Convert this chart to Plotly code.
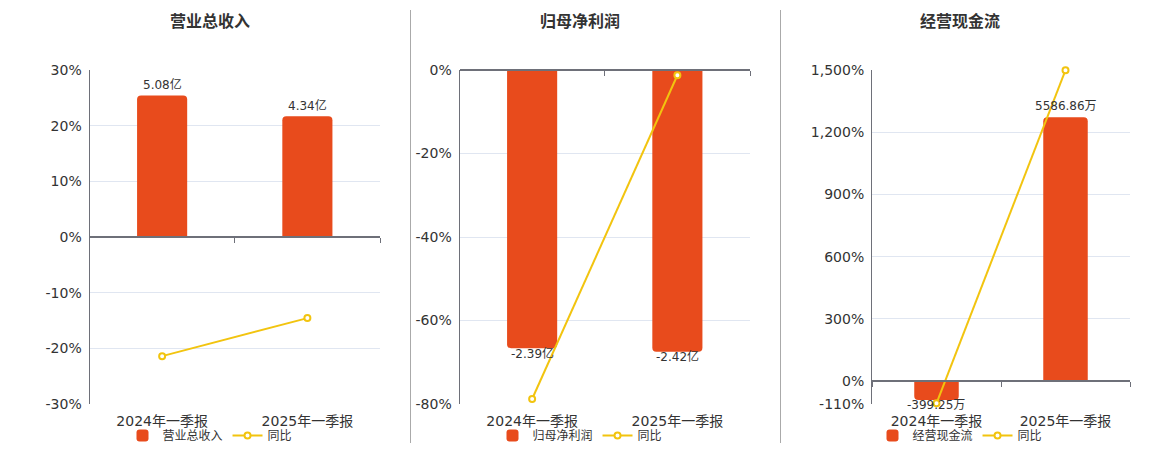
import plotly.graph_objects as go

W, H = 1160, 450

categories = ["2024年一季报", "2025年一季报"]

titles = ["营业总收入", "归母净利润", "经营现金流"]
bar_names = ["营业总收入", "归母净利润", "经营现金流"]
bar_units = ["亿", "亿", "万"]

revenue = [5.08, 4.34]          # 亿
revenue_yoy = [-21.4, -14.57]   # %
netprofit = [-2.39, -2.42]      # 亿
netprofit_yoy = [-78.8, -1.26]  # %
cashflow = [-399.25, 5586.86]   # 万
cashflow_yoy = [-106.5, 1499.3] # %

bars = [revenue, netprofit, cashflow]
yoys = [revenue_yoy, netprofit_yoy, cashflow_yoy]

pct_ranges = [[-30, 30], [-80, 0], [-110, 1500]]
pct_ticks = [[-30, -20, -10, 0, 10, 20, 30],
             [-80, -60, -40, -20, 0],
             [-110, 0, 300, 600, 900, 1200, 1500]]
pct_ticktext = [["-30%", "-20%", "-10%", "0%", "10%", "20%", "30%"],
                ["-80%", "-60%", "-40%", "-20%", "0%"],
                ["-110%", "0%", "300%", "600%", "900%", "1,200%", "1,500%"]]
bar_ranges = [[-6, 6], [-2.87, 0], [-110 / 1500 * 6587, 6587]]

# layout (pixels)
x_doms_px = [(89.5, 380), (459.5, 750), (872, 1130)]
y_top_px, y_bot_px = 70, 404
title_cx = [210, 580, 960]
legend_cx = [210, 580, 960]

BAR_COLOR = "#E84B1C"
LINE_COLOR = "#F2C40F"
AXIS_COLOR = "#6E7079"
GRID_COLOR = "#E0E6F1"
TEXT_COLOR = "#333333"
FONT = "DejaVu Sans, Noto Sans CJK SC, sans-serif"

fig = go.Figure()
layout = {}
annotations = []
ydom = [1 - y_bot_px / H, 1 - y_top_px / H]
legend_names = ["legend", "legend2", "legend3"]

for i in range(3):
    n = i + 1
    xa = "x" if n == 1 else f"x{n}"
    yb = "y" if n == 1 else f"y{n}"      # bars (main, hidden)
    yp = f"y{n + 3}"                       # percent axis (overlay, visible)
    xz = f"x{n + 3}"                       # zero axis line
    xdom = [x_doms_px[i][0] / W, x_doms_px[i][1] / W]
    lg = legend_names[i]

    fig.add_trace(go.Bar(
        x=categories, y=bars[i], name=bar_names[i], xaxis=xa, yaxis=yb,
        marker=dict(color=BAR_COLOR, cornerradius=4, line=dict(width=0)),
        width=0.345, legend=lg,
    ))
    fig.add_trace(go.Scatter(
        x=categories, y=yoys[i], name="同比", xaxis=xa, yaxis=yp,
        mode="lines+markers",
        line=dict(color=LINE_COLOR, width=2),
        marker=dict(symbol="circle", size=6, color="white",
                    line=dict(color=LINE_COLOR, width=2)),
        cliponaxis=False, legend=lg,
    ))
    # helper (invisible) trace for the zero axis line
    fig.add_trace(go.Scatter(
        x=list(range(len(categories))), y=yoys[i], xaxis=xz, yaxis=yp,
        mode="none", showlegend=False, hoverinfo="skip",
    ))

    # bar value labels
    for cat, v in zip(categories, bars[i]):
        annotations.append(dict(
            text=f"{v:.2f}{bar_units[i]}", x=cat, y=v, xref=xa, yref=yb,
            xanchor="center", yanchor="middle", showarrow=False,
            yshift=11 if v >= 0 else -5,
            font=dict(size=12, color=TEXT_COLOR, family=FONT),
        ))

    rmin, rmax = pct_ranges[i]
    zero_pos = ydom[0] + (0 - rmin) / (rmax - rmin) * (ydom[1] - ydom[0])

    layout["xaxis" if n == 1 else f"xaxis{n}"] = dict(
        domain=xdom, anchor=yb, type="category", range=[-0.5, 1.5],
        showline=False, showgrid=False, ticks="", automargin=False,
        tickfont=dict(size=14, color=TEXT_COLOR, family=FONT),
        ticklabelstandoff=7,
    )
    layout[f"xaxis{n + 3}"] = dict(
        overlaying=xa, anchor="free", position=zero_pos, type="linear",
        range=[-0.5, 1.5], tickvals=[-0.5, 0.5, 1.5], ticks="outside",
        ticklen=5, tickcolor=AXIS_COLOR, tickwidth=1, automargin=False,
        showticklabels=False, showgrid=False, zeroline=False,
        showline=True, linecolor=AXIS_COLOR, linewidth=2,
    )
    layout["yaxis" if n == 1 else f"yaxis{n}"] = dict(
        domain=ydom, anchor=xa, range=bar_ranges[i],
        visible=False, showgrid=False, zeroline=False, automargin=False,
    )
    layout[f"yaxis{n + 3}"] = dict(
        overlaying=yb, anchor=xa, side="left", range=pct_ranges[i],
        tickvals=pct_ticks[i], ticktext=pct_ticktext[i],
        tickfont=dict(size=14, color=TEXT_COLOR, family=FONT),
        showline=True, linecolor=AXIS_COLOR, linewidth=1,
        showgrid=True, gridcolor=GRID_COLOR, gridwidth=1,
        zeroline=False, ticks="", ticklabelstandoff=4, automargin=False,
    )
    layout[lg] = dict(
        x=legend_cx[i] / W, y=0, xanchor="center", yanchor="bottom",
        orientation="h", font=dict(size=12, color=TEXT_COLOR, family=FONT),
        bgcolor="rgba(0,0,0,0)", itemwidth=30, traceorder="normal",
    )

annotations += [
    dict(text=f"<b>{t}</b>", x=title_cx[i] / W, y=1 - 22 / H, xref="paper",
         yref="paper", xanchor="center", yanchor="middle", showarrow=False,
         font=dict(size=16, color=TEXT_COLOR, family=FONT))
    for i, t in enumerate(titles)
]

shapes = [
    dict(type="line", xref="paper", yref="paper", x0=xp / W, x1=xp / W,
         y0=1 - 10 / H, y1=1 - 443 / H, line=dict(color="#AAAAAA", width=1))
    for xp in (410.5, 780.5)
]

fig.update_layout(
    width=W, height=H, margin=dict(l=0, r=0, t=0, b=0, pad=0),
    paper_bgcolor="white", plot_bgcolor="white",
    font=dict(family=FONT, color=TEXT_COLOR),
    barmode="group", annotations=annotations, shapes=shapes,
    **layout,
)

fig.write_html(
    "out.html",
    config={"displayModeBar": False},
    post_script="document.body.style.margin='0px';",
)
